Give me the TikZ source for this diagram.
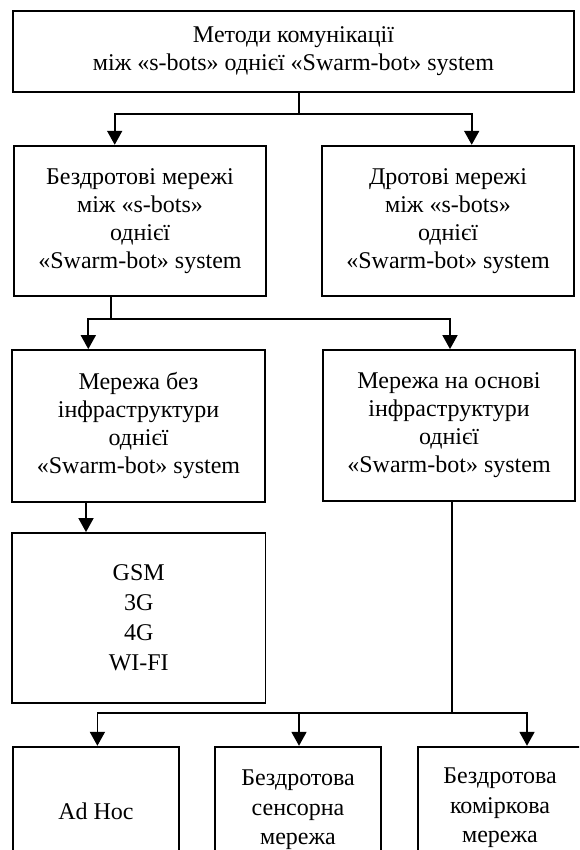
\documentclass[tikz,border=0pt]{standalone}
\usepackage{fontspec}
\setmainfont{Liberation Serif}
\usetikzlibrary{arrows.meta}
\begin{document}
\begin{tikzpicture}[x=1pt,y=-1pt,
  box/.style={draw, line width=1.8pt, inner sep=0pt, align=center,
    font=\fontsize{24}{28}\selectfont},
  link/.style={line width=1.8pt},
  arr/.style={link, -{Triangle[length=14pt,width=15pt]}}]
\useasboundingbox (0,0) rectangle (579,850);
\clip (0,0) rectangle (579,850);
\fill[white] (0,0) rectangle (579,850);

% boxes
\node[box, minimum width=561pt, minimum height=81.7pt] (top) at (293.5,51.5)
  {Методи комунікації\\між «s-bots» однієї «Swarm-bot» system};
\node[box, minimum width=252pt, minimum height=150pt] (l2a) at (140,220.7)
  {Бездротові мережі\\між «s-bots»\\однієї\\«Swarm-bot» system};
\node[box, minimum width=252pt, minimum height=150pt] (l2b) at (448,220.7)
  {Дротові мережі\\між «s-bots»\\однієї\\«Swarm-bot» system};
\node[box, minimum width=253pt, minimum height=151.7pt] (l3a) at (138.5,425.85)
  {Мережа без\\інфраструктури\\однієї\\«Swarm-bot» system};
\node[box, minimum width=252pt, minimum height=150.7pt] (l3b) at (449,425.35)
  {Мережа на основі\\інфраструктури\\однієї\\«Swarm-bot» system};
\node[box, minimum width=253.5pt, minimum height=169.6pt,
  font=\fontsize{24}{30}\selectfont] (gsm) at (138.75,617.8)
  {GSM\\3G\\4G\\WI-FI};
\node[box, minimum width=166pt, minimum height=128.6pt] (adhoc) at (96,811)
  {Ad Hoc};
\node[box, minimum width=166pt, minimum height=126pt,
  font=\fontsize{24}{29.5}\selectfont] (sens) at (298,809.7)
  {Бездротова\\сенсорна\\мережа};
\node[box, minimum width=164pt, minimum height=122pt,
  font=\fontsize{24}{29.5}\selectfont] (cell) at (500,807.7)
  {Бездротова\\коміркова\\мережа};

% junction points of the connectors
\coordinate (j1) at (299,114);
\coordinate (a1) at (114.7,114);
\coordinate (b1) at (471.7,114);
\coordinate (j2) at (111.3,319.3);
\coordinate (a2) at (88.3,319.3);
\coordinate (b2) at (450,319.3);
\coordinate (a3) at (86,517);
\coordinate (j4) at (452.3,713);
\coordinate (a4) at (97.4,713);
\coordinate (b4) at (299,713);
\coordinate (c4) at (527,713);

% connectors
\draw[link] (top.south -| j1) -- (j1);
\draw[arr] (j1) -| (a1 |- l2a.north);
\draw[arr] (j1) -| (b1 |- l2b.north);

\draw[link] (l2a.south -| j2) -- (j2);
\draw[arr] (j2) -| (a2 |- l3a.north);
\draw[arr] (j2) -| (b2 |- l3b.north);

\draw[arr] (l3a.south -| a3) -- (a3 |- gsm.north);

\draw[link] (l3b.south -| j4) -- (j4);
\draw[arr] (j4) -| (a4 |- adhoc.north);
\draw[arr] (b4) -- (b4 |- sens.north);
\draw[arr] (j4) -| (c4 |- cell.north);
\end{tikzpicture}
\end{document}
